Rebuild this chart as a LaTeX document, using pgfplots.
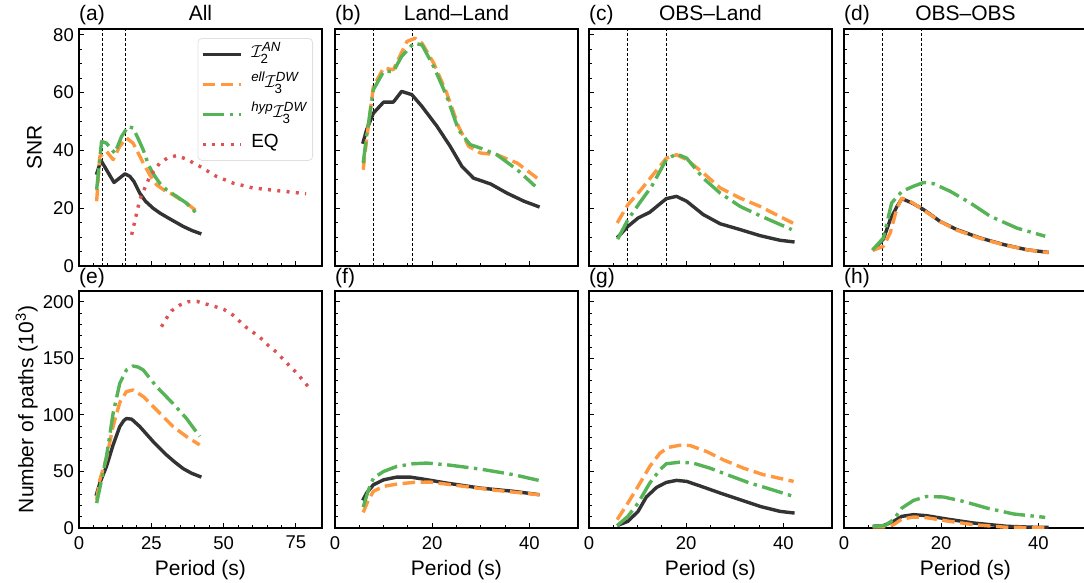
\documentclass[border=0pt]{standalone}
\usepackage{amsmath}
\usepackage{fontspec}
\setmainfont{Liberation Sans}
\usepackage{pgfplots}
\pgfplotsset{compat=1.18}
\definecolor{cblack}{RGB}{51,51,51}
\definecolor{corange}{RGB}{255,152,62}
\definecolor{cgreen}{RGB}{86,179,86}
\definecolor{cred}{RGB}{222,82,83}
\newcommand{\tickfont}{\fontsize{18.5}{20}\selectfont}
\newcommand{\labfont}{\fontsize{21}{24}\selectfont}
\pgfplotsset{
  blk/.style={color=cblack, line width=3.4pt, solid, line join=round},
  ora/.style={color=corange, line width=3.4pt, dash pattern=on 12.5pt off 5.5pt, line join=round},
  grn/.style={color=cgreen, line width=3.4pt, dash pattern=on 21.5pt off 5.5pt on 3.4pt off 5.5pt, line join=round},
  redd/.style={color=cred, line width=3.4pt, dash pattern=on 3pt off 6.3pt},
  vref/.style={forget plot, black, line width=0.9pt, dash pattern=on 3pt off 2pt},
  myaxis/.style={scale only axis, width=243pt, height=237pt, anchor=south west,
    axis line style={line width=1.1pt}, tick style={line width=1pt, black},
    major tick length=5.3pt, minor tick length=2.7pt, tick align=inside, tick pos=left,
    ticklabel style={font=\tickfont},
    /pgf/number format/assume math mode=true,
    xticklabel style={inner sep=0pt, yshift=-8pt},
    yticklabel style={inner sep=0pt, xshift=-5pt},
    every axis title/.style={at={(axis description cs:0.5,1)}, anchor=base, yshift=8.3pt, font=\labfont},
    every axis x label/.style={at={(axis description cs:0.5,0)}, anchor=base, yshift=-47pt, font=\labfont},
    xmin=0},
  toprow/.style={ymin=0, ymax=82, ytick={0,20,40,60,80}, minor y tick num=3, xticklabels={}},
  botrow/.style={ymin=0, ymax=209.5, ytick={0,50,100,150,200}, minor y tick num=4, xlabel={Period (s)}},
  cola/.style={xmax=84, xtick={0,25,50,75}, minor x tick num=4},
  colb/.style={xmax=50, xtick={0,20,40}, minor x tick num=3, yticklabels={}},
  plab/.style={extra description/.code={\node[anchor=base west, font=\labfont, inner sep=0pt] at (0,1) [yshift=#1] {\plabtext};}},
}
\begin{document}
\begin{tikzpicture}
\path[use as bounding box] (0,0) rectangle (1084pt,-583pt);
% ---------------- (a) All SNR
\def\plabtext{(a)}
\begin{axis}[myaxis, toprow, cola, at={(79pt,-266pt)}, title={All}, plab=8.3pt,
  ylabel={SNR},
  every axis y label/.style={at={(axis description cs:-0.1535,0.5)}, anchor=base, rotate=90, font=\labfont},
  legend style={at={(0.963,0.962)}, anchor=north east, draw=black!12, line width=0.8pt, rounded corners=4pt,
    fill=white, fill opacity=0.8, text opacity=1, font=\fontsize{19}{21}\selectfont,
    inner xsep=3pt, inner ysep=2pt, row sep=2pt,
    nodes={text height=15pt, text depth=9pt, inner xsep=3pt}},
  legend cell align=left,
  legend image code/.code={\draw[#1] (0pt,0pt) -- (38pt,0pt);}]
\addplot[vref] coordinates {(8,0) (8,82)};
\addplot[vref] coordinates {(16,0) (16,82)};
\addplot[blk] coordinates {(6,31.6)(7.6,36.5)(12.1,28.9)(15.9,31.9)(17.6,31)(19,29.2)(21,25.2)(23,22.4)(25.6,20)(28,18.3)(30.2,17)(33,15.4)(36,13.7)(39,12.3)(42.3,11.1)};
\addlegendentry{\hspace{6pt}$\mathcal{I}_{\text{2}}^{\text{\itshape AN}}$}
\addplot[ora] coordinates {(6.1,22.4)(7.2,38)(8,38.5)(9.5,39.7)(11.8,36.8)(14.1,41.4)(16.4,44.3)(18.7,42.5)(20.5,39)(22.2,35.6)(24.5,31.5)(26.8,28.1)(29.5,26.2)(32.5,24.7)(35,23)(37.1,21.8)(40,19.5)(41.7,18.3)};
\addlegendentry{\hspace{6pt}${}^{\text{\itshape ell}}\mathcal{I}_{\text{3}}^{\text{\itshape DW}}$}
\addplot[grn] coordinates {(6.1,26.4)(7.8,43.1)(9.5,42.5)(12.4,39)(14.7,44.8)(17,48.3)(18.7,47.7)(20.5,44)(22.2,40.2)(24,35)(25.6,32)(28,28.5)(30.2,26.4)(33.7,24.1)(37.1,21.8)(41.1,17.8)};
\addlegendentry{\hspace{6pt}${}^{\text{\itshape hyp}}\mathcal{I}_{\text{3}}^{\text{\itshape DW}}$}
\addplot[redd] coordinates {(18.2,10.8)(21,22.9)(24.5,31)(27.9,35.6)(30.5,37.3)(33.7,38.2)(37.1,37)(41.7,34.5)(47.5,31)(53.2,28.7)(60.1,27)(68.2,26.1)(78.5,25)};
\addlegendentry{\hspace{6pt}EQ}
\end{axis}
% ---------------- (b) Land-Land
\def\plabtext{(b)}
\begin{axis}[myaxis, toprow, colb, at={(335pt,-266pt)}, title={Land--Land}, plab=8.3pt]
\addplot[vref] coordinates {(8,0) (8,82)};
\addplot[vref] coordinates {(16,0) (16,82)};
\addplot[blk] coordinates {(5.7,42.3)(6.5,47.1)(7.9,52.9)(10,56.7)(12,56.7)(13.7,60.4)(15.8,59.3)(17.9,55.2)(21,48.3)(23.7,41.4)(26.1,34.5)(28.5,30.4)(32,28.4)(35.4,25.2)(38.9,22.4)(42.1,20.4)};
\addplot[ora] coordinates {(5.8,33.3)(6.5,43.7)(7.9,62.1)(10,68.5)(12,67.9)(14.8,77.7)(16.5,78.8)(17.9,77.1)(20.3,70.2)(23,59.8)(25.4,48.3)(27.5,41.4)(29.9,39.1)(33.3,38.5)(37.5,35.6)(41.6,30.4)};
\addplot[grn] coordinates {(5.8,35.6)(6.5,45)(7.9,61)(10,67.3)(12,67.3)(13.7,72.5)(16.2,77.1)(17.9,76.5)(20.3,69)(23,58.7)(25.4,47.1)(27.8,42)(29.9,40.8)(33.3,38.5)(37.5,33.3)(41.2,27.6)};
\end{axis}
% ---------------- (c) OBS-Land
\def\plabtext{(c)}
\begin{axis}[myaxis, toprow, colb, at={(589pt,-266pt)}, title={OBS--Land}, plab=8.3pt]
\addplot[vref] coordinates {(8,0) (8,82)};
\addplot[vref] coordinates {(16,0) (16,82)};
\addplot[blk] coordinates {(5.8,9.8)(8,13.7)(10.1,16.6)(12.5,18.6)(15.9,23.3)(18,24.1)(20.1,22.4)(23.5,17.8)(27,14.6)(31.1,12.6)(35.2,10.5)(39.3,8.9)(42.3,8.3)};
\addplot[ora] coordinates {(5.8,14.9)(8,21.2)(10.4,25.8)(12.9,31)(15.9,37.3)(18,38.5)(20.1,36.8)(23.5,32.2)(27,27)(31.1,23.5)(35.2,20.6)(42,14.8)};
\addplot[grn] coordinates {(5.9,9.3)(8,16)(10.4,21.8)(12.9,27.6)(15.9,36.8)(18,38.8)(20.1,37.3)(23.5,30.4)(27,25.2)(31.1,20.6)(35.2,17.4)(41.7,12.6)};
\end{axis}
% ---------------- (d) OBS-OBS
\def\plabtext{(d)}
\begin{axis}[myaxis, toprow, colb, at={(844pt,-266pt)}, title={OBS--OBS}, plab=8.3pt]
\addplot[vref] coordinates {(8,0) (8,82)};
\addplot[vref] coordinates {(16,0) (16,82)};
\addplot[blk] coordinates {(5.9,5.4)(8.1,9.3)(9.5,16)(10.9,20.6)(11.9,23.3)(14,21.8)(16.4,19.5)(19.8,15.4)(23.2,12.6)(28,9.7)(32.9,7.4)(37.7,5.6)(42.1,4.7)};
\addplot[ora] coordinates {(5.9,5.4)(8.1,6.8)(9.5,11.4)(10.9,20)(11.9,23.5)(14,22)(16.4,19.3)(19.8,15.4)(23.2,12.4)(28,9.6)(32.9,7.3)(37.7,5.6)(42.1,4.6)};
\addplot[grn] coordinates {(5.9,5.6)(8.1,9.7)(9.8,21.8)(11.9,25.8)(14.3,27.6)(16.4,28.9)(18.4,28.5)(21.9,25.8)(26,21.8)(30.1,17.2)(35.6,13.1)(41.4,10.3)};
\end{axis}
% ---------------- (e) All paths
\def\plabtext{(e)}
\begin{axis}[myaxis, botrow, cola, at={(79pt,-528pt)}, plab=7.5pt,
  ylabel={Number of paths (10\textsuperscript{3})},
  every axis y label/.style={at={(axis description cs:-0.188,0.5)}, anchor=base, rotate=90, font=\labfont}]
\addplot[blk] coordinates {(5.9,28.5)(7.2,39.7)(9.5,54.4)(11.8,73.5)(14.1,89.7)(15.5,95)(16.4,96.8)(18.2,96.2)(21,89.7)(25.6,76.5)(30.2,64.7)(33,58.5)(36,52.5)(39,48.3)(42.3,45)};
\addplot[ora] coordinates {(6.1,25)(7.2,42.6)(9.5,61.8)(11.8,90)(14.1,111)(16.4,120.6)(18.7,122)(22.2,116.2)(26.8,104.4)(32.5,89.7)(37.1,80.9)(41.7,73.5)};
\addplot[grn] coordinates {(6.1,22)(7.8,42.6)(9.5,63.2)(11.8,101.5)(14.1,127.9)(16.4,139.7)(18.7,143.2)(20.5,142.2)(22.2,139.7)(26.8,125)(32.5,110)(37.1,97)(41.7,81)};
\addplot[redd] coordinates {(28.5,177.9)(30.2,185.3)(32,192)(34.8,197)(37.7,200)(40.8,200.3)(44,197.9)(47.2,195.6)(50.1,193.2)(53.2,188.2)(57.8,177.4)(60.7,172)(63.6,166.2)(65.6,160.9)(68.2,155.6)(70.5,149.4)(72.8,143.2)(75.1,137.4)(77.1,131.5)(79.4,124.4)};
\end{axis}
% ---------------- (f)
\def\plabtext{(f)}
\begin{axis}[myaxis, botrow, colb, at={(335pt,-528pt)}, plab=7.5pt]
\addplot[blk] coordinates {(5.7,24.4)(6.5,30.9)(7.9,38.2)(10,42.6)(12.7,45)(15.5,45)(18.2,43.2)(23,39.7)(29.9,35.3)(36.8,32.4)(42.1,29.4)};
\addplot[ora] coordinates {(5.8,13.8)(6.9,25)(7.9,32.4)(10,36.8)(12.7,38.8)(16.1,40.3)(19.6,40.6)(26.5,36.8)(33.3,33.2)(42.1,29.4)};
\addplot[grn] coordinates {(5.8,18.5)(6.9,33.8)(7.9,44.1)(10,50)(12.7,54.4)(16.1,56.8)(18.9,57.4)(23,55.9)(29.9,52.1)(36.8,47.1)(41.9,42.1)};
\end{axis}
% ---------------- (g)
\def\plabtext{(g)}
\begin{axis}[myaxis, botrow, colb, at={(589pt,-528pt)}, plab=7.5pt]
\addplot[blk] coordinates {(5.8,2.1)(8,5.9)(10.1,14.7)(11.8,27.4)(13.9,35.9)(15.9,40.3)(18,42.1)(20.1,41.2)(23.5,36.2)(27,30.9)(31.1,25)(35.2,19.1)(39.3,14.7)(42.3,13.2)};
\addplot[ora] coordinates {(5.8,7.4)(8,22.1)(10.1,36.8)(12.5,54.4)(14.6,66.2)(16.3,71.2)(18.7,73.2)(20.8,72.9)(24.2,67.6)(27.6,60.3)(31.8,52.9)(35.9,47.1)(42.1,41.2)};
\addplot[grn] coordinates {(5.8,2.1)(8,10.3)(10.1,22.1)(12.5,39.7)(14.6,51.5)(15.9,56.8)(18.7,58.2)(21.4,57.4)(24.9,52.9)(29,46.2)(33.1,39.7)(36.6,35.3)(42.1,27.9)};
\end{axis}
% ---------------- (h)
\def\plabtext{(h)}
\begin{axis}[myaxis, botrow, colb, at={(844pt,-528pt)}, plab=7.5pt]
\addplot[blk] coordinates {(5.9,1.5)(8.1,2.1)(10.2,5.9)(11.9,10.3)(14.3,11.8)(17,10.9)(21.2,7.9)(26.7,4.4)(33.5,1.5)(39.7,0.6)(42.1,0.6)};
\addplot[ora] coordinates {(5.9,0.9)(8.1,0.9)(10.2,2.9)(11.9,7.9)(14.3,9.7)(17,9.1)(21.2,6.2)(26.7,2.9)(33.5,0.6)(42.1,0.3)};
\addplot[grn] coordinates {(5.9,1.5)(8.4,2.1)(10.2,7.4)(11.9,17.6)(14.3,24.4)(17,27.9)(20.5,27.4)(24.6,23.5)(29.4,17.6)(34.9,12.4)(41.4,9.4)};
\end{axis}
\end{tikzpicture}
\end{document}
